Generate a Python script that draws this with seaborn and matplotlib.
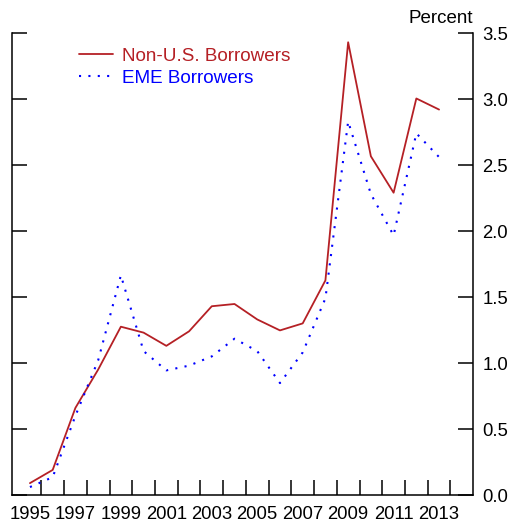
import matplotlib
matplotlib.use("Agg")
import matplotlib.pyplot as plt
import seaborn as sns
import pandas as pd

years = [1995, 1996, 1997, 1998, 1999, 2000, 2001, 2002, 2003, 2004,
         2005, 2006, 2007, 2008, 2009, 2010, 2011, 2012, 2013]
non_us = [0.09, 0.19, 0.66, 0.95, 1.275, 1.23, 1.13, 1.24, 1.43, 1.447,
          1.33, 1.247, 1.30, 1.626, 3.43, 2.566, 2.29, 3.004, 2.92]
eme = [0.06, 0.135, 0.60, 1.02, 1.664, 1.09, 0.944, 0.98, 1.05, 1.184,
       1.09, 0.848, 1.08, 1.49, 2.83, 2.28, 1.967, 2.74, 2.56]
year_labels = ["1995", "1997", "1999", "2001", "2003", "2005", "2007",
               "2009", "2011", "2013"]
y_ticks = [0.0, 0.5, 1.0, 1.5, 2.0, 2.5, 3.0, 3.5]

sns.set_style("white")
plt.rcParams["font.family"] = ["Liberation Sans", "DejaVu Sans"]

df = pd.DataFrame({"year": years, "Non-U.S. Borrowers": non_us,
                   "EME Borrowers": eme})

fig = plt.figure(figsize=(5.08, 5.22), dpi=100)
ax = fig.add_axes([12 / 508, 1 - 495 / 522, (472.7 - 12) / 508, (495 - 33) / 522])

red = "#B52025"
blue = "#0000FF"
sns.lineplot(data=df, x="year", y="Non-U.S. Borrowers", ax=ax, color=red,
             lw=1.3, label="Non-U.S. Borrowers")
sns.lineplot(data=df, x="year", y="EME Borrowers", ax=ax, color=blue,
             lw=1.5, linestyle=(0, (1, 3.5)), label="EME Borrowers")

ax.set_xlim(1994.21, 2014.48)
ax.set_ylim(0, 3.5)
ax.set_xlabel("")
ax.set_ylabel("")

for side in ["left", "right", "bottom"]:
    ax.spines[side].set_visible(True)
    ax.spines[side].set_linewidth(1.1)
    ax.spines[side].set_color("black")
ax.spines["top"].set_visible(False)

# x: year-boundary ticks, labels centred on odd years
ax.set_xticks([y + 0.5 for y in years])
ax.set_xticklabels([])
ax.set_xticks([int(s) for s in year_labels], minor=True)
ax.set_xticklabels(year_labels, minor=True)
ax.tick_params(axis="x", which="major", direction="in", length=11,
               width=1.1, color="black", bottom=True)
ax.tick_params(axis="x", which="minor", length=0, pad=8, labelsize=13.3,
               bottom=True, labelcolor="black")

# y: ticks on both sides, labels on the right
ax.set_yticks(y_ticks)
ax.set_yticklabels([f"{v:.1f}" for v in y_ticks])
ax.set_yticks([3.5], minor=True)
ax.tick_params(axis="y", which="major", direction="in", length=11, width=1.1,
               color="black", left=True, right=True, labelleft=False,
               labelright=True, labelsize=13.3, pad=7, labelcolor="black")
ax.tick_params(axis="y", which="minor", direction="in", length=22, width=1.1,
               color="black", left=True, right=True, labelleft=False,
               labelright=False)

ax.text(1.0, 1.0216, "Percent", transform=ax.transAxes, ha="right",
        va="baseline", fontsize=13.5, color="black")

leg = ax.legend(loc="upper left", bbox_to_anchor=(0.13, 0.985), frameon=False,
                fontsize=13.6, handlelength=1.76, handletextpad=0.5,
                labelspacing=0.25, borderaxespad=0)
for txt, c in zip(leg.get_texts(), [red, blue]):
    txt.set_color(c)

fig.savefig("out.png", dpi=100)
